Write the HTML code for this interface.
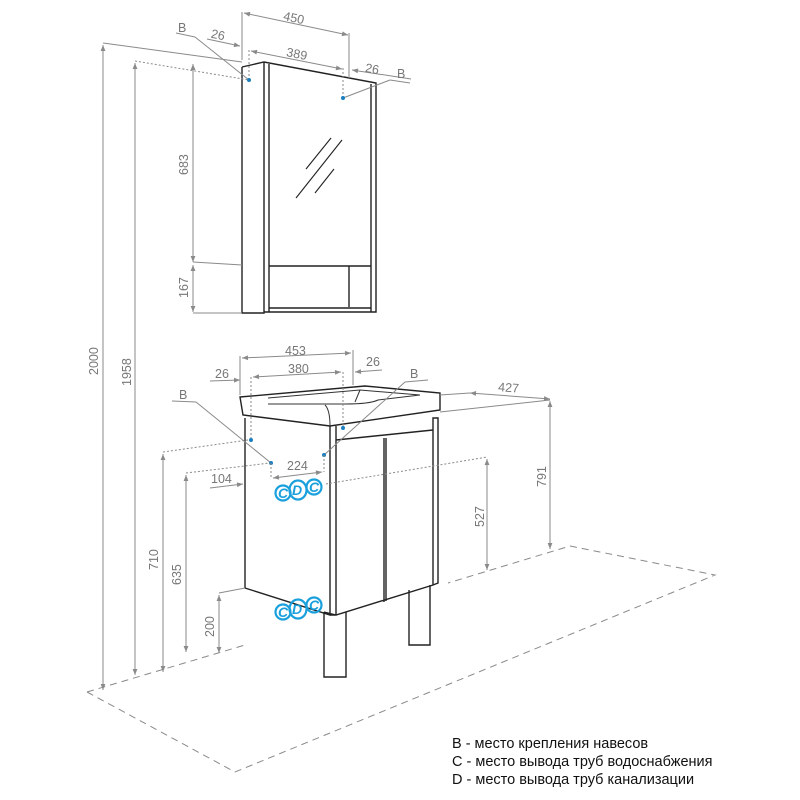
<!DOCTYPE html>
<html><head><meta charset="utf-8"><style>
html,body{margin:0;padding:0;background:#fff}
svg{display:block}
.d{stroke:#8a8a8a;stroke-width:1;fill:none}
.o{stroke:#222;stroke-width:1.4;fill:none}
.dt{stroke:#8a8a8a;stroke-width:1;fill:none;stroke-dasharray:2 2}
.ds{stroke:#8a8a8a;stroke-width:1;fill:none;stroke-dasharray:7 5}
text{font-family:"Liberation Sans",sans-serif;fill:#777;font-size:12.5px}
.c{fill:#1aa0dc;font-style:italic;font-weight:bold;font-size:14px}
</style></head><body>
<svg width="800" height="800" viewBox="0 0 800 800" xmlns="http://www.w3.org/2000/svg">
<defs>
<marker id="a" viewBox="0 0 10 10" refX="10" refY="5" markerWidth="9" markerHeight="6" orient="auto-start-reverse"><path d="M0,1 L10,5 L0,9 z" fill="#8a8a8a"/></marker>
</defs>
<polyline class="ds" points="87,692 235,772 715,575 570,546 448,583"/>
<line class="ds" x1="87" y1="692" x2="245" y2="645"/>
<path class="o" d="M242,67 L264,62 L376,83 L376,312 L371,312 M242,67 L242,313 L264,313 L264,62 M269,64 L269,312 M264,312 L371,312 M371,84 L371,312 M269,266 L371,266 M349,266 L349,307 M269,308 L371,308"/>
<path d="M306,169 L331,138 M296,198 L342,140 M315,193 L334,169" stroke="#222" stroke-width="1.1"/>
<line class="d" x1="242" y1="12" x2="242" y2="60"/>
<line class="d" x1="349" y1="33" x2="349" y2="78"/>
<line class="d" x1="244" y1="13" x2="348" y2="35" marker-start="url(#a)" marker-end="url(#a)"/>
<text x="283" y="22" transform="rotate(12 293 20)">450</text>
<line class="dt" x1="249" y1="50" x2="249" y2="80"/>
<line class="dt" x1="343" y1="68" x2="343" y2="98"/>
<line class="d" x1="251" y1="51" x2="342" y2="69" marker-start="url(#a)" marker-end="url(#a)"/>
<text x="286" y="58" transform="rotate(11 296 56)">389</text>
<line class="d" x1="207" y1="39" x2="240" y2="46" marker-end="url(#a)"/>
<text x="211" y="39" transform="rotate(12 218 35)">26</text>
<line class="d" x1="411" y1="79" x2="352" y2="70" marker-end="url(#a)"/>
<text x="365" y="73" transform="rotate(10 372 70)">26</text>
<text x="178" y="32">B</text>
<line class="d" x1="176" y1="33" x2="195" y2="37"/>
<line class="d" x1="195" y1="37" x2="249" y2="80"/>
<text x="397" y="78">B</text>
<line class="d" x1="390" y1="80" x2="410" y2="83"/>
<line class="d" x1="343" y1="98" x2="390" y2="80"/>
<circle cx="249" cy="80" r="2" fill="#1a7fc0"/>
<circle cx="343" cy="98" r="2" fill="#1a7fc0"/>
<line class="d" x1="103" y1="43" x2="242" y2="62"/>
<line class="d" x1="103" y1="45" x2="103" y2="690" marker-start="url(#a)" marker-end="url(#a)"/>
<text transform="translate(98,375) rotate(-90)">2000</text>
<line class="dt" x1="135" y1="61" x2="249" y2="80"/>
<line class="d" x1="135" y1="63" x2="135" y2="675" marker-start="url(#a)" marker-end="url(#a)"/>
<text transform="translate(131,386) rotate(-90)">1958</text>
<line class="d" x1="193" y1="64" x2="193" y2="262" marker-start="url(#a)" marker-end="url(#a)"/>
<text transform="translate(188,175) rotate(-90)">683</text>
<line class="d" x1="193" y1="265" x2="193" y2="312" marker-start="url(#a)" marker-end="url(#a)"/>
<text transform="translate(188,298) rotate(-90)">167</text>
<line class="d" x1="193" y1="262" x2="242" y2="265"/>
<line class="d" x1="193" y1="313" x2="242" y2="313"/>
<path class="o" d="M240,397 L365,386 L440,393 L440,410 L330,426 L243,415 Z"/>
<path d="M268,398 L360,390 L420,395 M360,390 L355,402 M420,395 L378,400 Q370,404 345,404 L268,404" stroke="#333" stroke-width="1" fill="none"/>
<path d="M330,426 Q330,410 325,405" stroke="#333" stroke-width="1" fill="none"/>
<path class="o" d="M245,418 L245,588 L330,615 L330,426 M336,426 L336,615 M330,615 L336,615 L433,585 L433,418 L438,418 L438,583 L433,585 M336,440 L433,430 M384,438 L384,602 M386,438 L386,601 M336,615 L324,612"/>
<path class="o" d="M324,612 L324,677 L346,677 L346,612 M409,590 L409,645 L430,645 L430,585"/>
<line class="d" x1="240" y1="356" x2="240" y2="395"/>
<line class="d" x1="353" y1="350" x2="353" y2="385"/>
<line class="d" x1="242" y1="358" x2="351" y2="353" marker-start="url(#a)" marker-end="url(#a)"/>
<text x="285" y="355">453</text>
<line class="dt" x1="251" y1="377" x2="251" y2="440"/>
<line class="dt" x1="343" y1="372" x2="343" y2="428"/>
<line class="d" x1="253" y1="377" x2="341" y2="372" marker-start="url(#a)" marker-end="url(#a)"/>
<text x="288" y="373">380</text>
<line class="d" x1="210" y1="381" x2="240" y2="380" marker-end="url(#a)"/>
<text x="215" y="378">26</text>
<line class="d" x1="382" y1="370" x2="355" y2="372" marker-end="url(#a)"/>
<text x="366" y="366">26</text>
<text x="179" y="399">B</text>
<line class="d" x1="172" y1="401" x2="196" y2="402"/>
<line class="d" x1="196" y1="402" x2="271" y2="463"/>
<text x="410" y="378">B</text>
<line class="d" x1="405" y1="382" x2="428" y2="380"/>
<line class="d" x1="405" y1="382" x2="324" y2="455"/>
<circle cx="251" cy="440" r="2" fill="#1a7fc0"/>
<circle cx="343" cy="428" r="2" fill="#1a7fc0"/>
<circle cx="271" cy="463" r="2" fill="#1a7fc0"/>
<circle cx="324" cy="455" r="2" fill="#1a7fc0"/>
<line class="dt" x1="271" y1="463" x2="271" y2="479"/>
<line class="dt" x1="324" y1="455" x2="324" y2="472"/>
<line class="d" x1="273" y1="478" x2="322" y2="472" marker-start="url(#a)" marker-end="url(#a)"/>
<text x="287" y="470">224</text>
<line class="d" x1="210" y1="488" x2="243" y2="484" marker-end="url(#a)"/>
<text x="211" y="483">104</text>
<line class="dt" x1="163" y1="452" x2="248" y2="440"/>
<line class="d" x1="163" y1="454" x2="163" y2="672" marker-start="url(#a)" marker-end="url(#a)"/>
<text transform="translate(158,570) rotate(-90)">710</text>
<line class="dt" x1="186" y1="473" x2="270" y2="463"/>
<line class="d" x1="186" y1="475" x2="186" y2="652" marker-start="url(#a)" marker-end="url(#a)"/>
<text transform="translate(181,585) rotate(-90)">635</text>
<line class="d" x1="219" y1="593" x2="245" y2="588"/>
<line class="d" x1="219" y1="595" x2="219" y2="653" marker-start="url(#a)" marker-end="url(#a)"/>
<text transform="translate(214,637) rotate(-90)">200</text>
<line class="dt" x1="326" y1="484" x2="487" y2="457"/>
<line class="d" x1="487" y1="459" x2="487" y2="570" marker-start="url(#a)" marker-end="url(#a)"/>
<text transform="translate(484,527) rotate(-90)">527</text>
<line class="d" x1="440" y1="395" x2="470" y2="393"/>
<line class="d" x1="470" y1="393" x2="550" y2="399" marker-start="url(#a)" marker-end="url(#a)"/>
<text x="498" y="392" transform="rotate(4 510 390)">427</text>
<line class="d" x1="440" y1="412" x2="550" y2="400"/>
<line class="d" x1="550" y1="401" x2="550" y2="549" marker-start="url(#a)" marker-end="url(#a)"/>
<text transform="translate(546,487) rotate(-90)">791</text>
<g>
<circle cx="283" cy="493" r="7.5" fill="none" stroke="#1aa0dc" stroke-width="2.2"/><text class="c" x="278" y="498">C</text>
<ellipse cx="298" cy="490" rx="8.5" ry="9.5" fill="none" stroke="#1aa0dc" stroke-width="2.2"/><text class="c" x="292" y="495">D</text>
<circle cx="314" cy="487" r="7.5" fill="none" stroke="#1aa0dc" stroke-width="2.2"/><text class="c" x="309" y="492">C</text>
<circle cx="283" cy="612" r="7.5" fill="none" stroke="#1aa0dc" stroke-width="2.2"/><text class="c" x="278" y="617">C</text>
<ellipse cx="298" cy="609" rx="8.5" ry="9.5" fill="none" stroke="#1aa0dc" stroke-width="2.2"/><text class="c" x="292" y="614">D</text>
<circle cx="314" cy="605" r="7.5" fill="none" stroke="#1aa0dc" stroke-width="2.2"/><text class="c" x="309" y="610">C</text>
</g>
<text x="452" y="748" style="fill:#111;font-size:14.5px">B - место крепления навесов</text>
<text x="452" y="766" style="fill:#111;font-size:14.5px">C - место вывода труб водоснабжения</text>
<text x="452" y="784" style="fill:#111;font-size:14.5px">D - место вывода труб канализации</text>
</svg>
</body></html>
